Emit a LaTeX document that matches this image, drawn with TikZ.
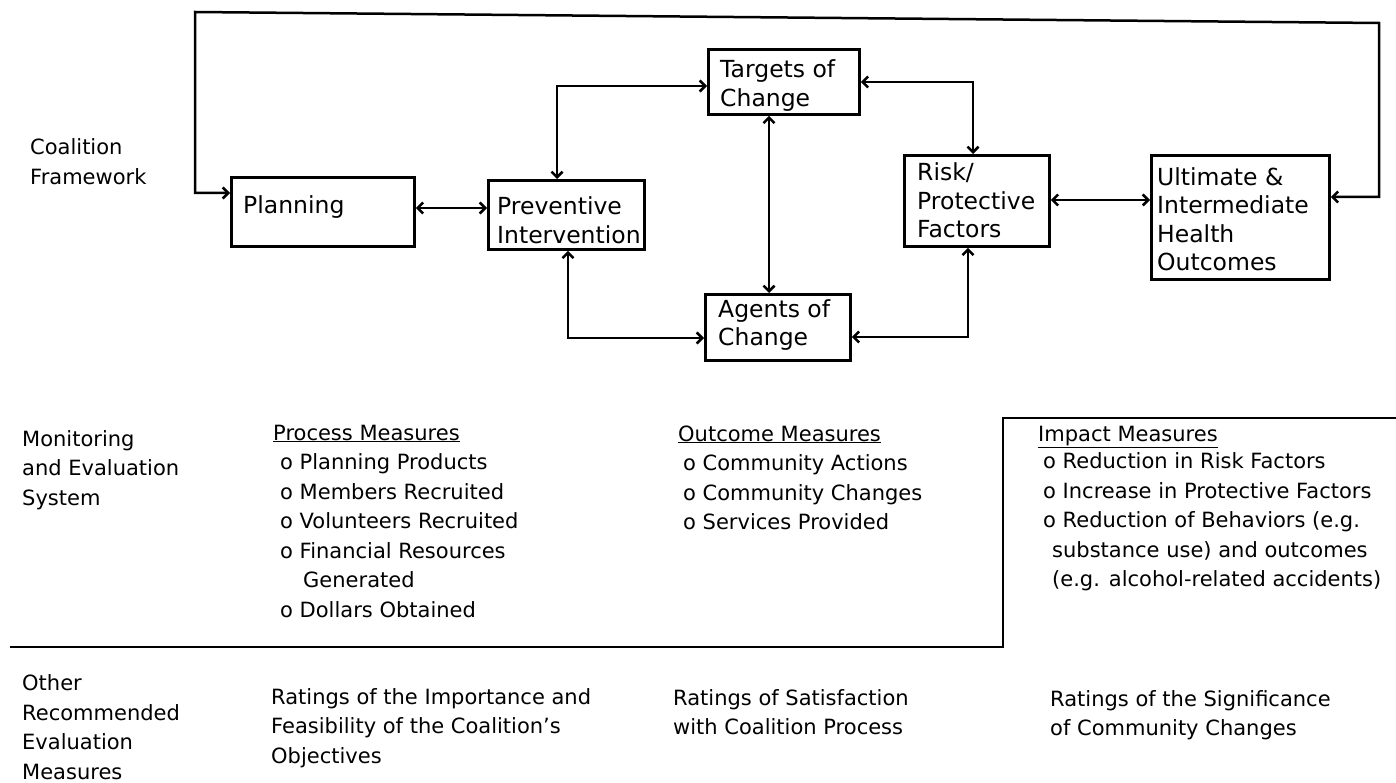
\documentclass[tikz,border=0pt]{standalone}
\usepackage{fontspec}
\setmainfont{DejaVu Sans}
\usetikzlibrary{arrows.meta}
\tikzset{
  lbl/.style={anchor=base west, align=left, inner sep=0pt, font=\fontsize{21}{29.5}\selectfont},
  btxt/.style={anchor=base west, align=left, inner sep=0pt, font=\fontsize{23.5}{28.5}\selectfont},
  box/.style={draw, line width=2.9pt, inner sep=0pt, anchor=north west},
  tip/.tip={Straight Barb[length=5.5pt,width=11pt]},
  conn/.style={line width=2.5pt, tip-tip},
  rule/.style={line width=2.6pt}
}
\begin{document}
\begin{tikzpicture}[x=1pt,y=-1pt]
\fill[white] (0,0) rectangle (1396,783);
\useasboundingbox (0,0) rectangle (1396,783);

% boxes
\node[box, minimum width=183pt, minimum height=69pt] (plan) at (230,176) {};
\node[box, minimum width=156pt, minimum height=69pt] (prev) at (487,179) {};
\node[box, minimum width=151pt, minimum height=65pt] (targ) at (707,48) {};
\node[box, minimum width=145pt, minimum height=91pt] (risk) at (903,154) {};
\node[box, minimum width=178pt, minimum height=124pt] (ult) at (1150,154) {};
\node[box, minimum width=145pt, minimum height=66pt] (agent) at (704,293) {};

% box texts (anchored at the baseline of the last line)
\node[btxt] (planT) at (243,213.5) {Planning};
\node[btxt] (prevT) at (497,243.5) {Preventive\\Intervention};
\node[btxt] (targT) at (720,106.5) {Targets of\\Change};
\node[btxt] (riskT) at (917,238) {Risk/\\Protective\\Factors};
\node[btxt] (ultT) at (1157,271) {Ultimate \&\\Intermediate\\Health\\Outcomes};
\node[btxt] (agentT) at (718,345.5) {Agents of\\Change};

% connector guide coordinates
\coordinate (l1) at (1379,197);
\coordinate (l2) at (1379,23);
\coordinate (l3) at (195,12);
\coordinate (l4) at (195,193);
\coordinate (pp) at (450,208);
\coordinate (pt) at (557,86);
\coordinate (tr) at (973,82);
\coordinate (ta) at (769,200);
\coordinate (ru) at (1100,200);
\coordinate (pa) at (568,338);
\coordinate (ar) at (968,337);

% connectors
\draw[conn] (ult.east |- l1) -- (l1) -- (l2) -- (l3) -- (l4) -- (l4 -| plan.west);
\draw[conn] (pp -| plan.east) -- (pp -| prev.west);
\draw[conn] (pt |- prev.north) -- (pt) -- (pt -| targ.west);
\draw[conn] (tr -| targ.east) -- (tr) -- (tr |- risk.north);
\draw[conn] (ta |- targ.south) -- (ta |- agent.north);
\draw[conn] (ru -| risk.east) -- (ru -| ult.west);
\draw[conn] (pa |- prev.south) -- (pa) -- (pa -| agent.west);
\draw[conn] (ar -| agent.east) -- (ar) -- (ar |- risk.south);

% section rules
\coordinate (s1) at (10,647);
\coordinate (s2) at (1003,647);
\coordinate (s3) at (1003,418);
\coordinate (s4) at (1396,418);
\draw[rule] (s1) -- (s2) -- (s3) -- (s4);

% left labels
\node[lbl] (coal) at (30,184.5) {Coalition\\Framework};
\node[lbl] (mon) at (22,505) {Monitoring\\and Evaluation\\System};
\node[lbl] (oth) at (22,779) {Other\\Recommended\\Evaluation\\Measures};

% measures
\node[lbl] (procH) at (273,440) {\underline{Process Measures}};
\node[lbl] (procL) at (280,617) {o Planning Products\\o Members Recruited\\o Volunteers Recruited\\o Financial Resources\\\hspace*{23pt}Generated\\o Dollars Obtained};
\node[lbl] (outH) at (678,441) {\underline{Outcome Measures}};
\node[lbl] (outL) at (683,529.5) {o Community Actions\\o Community Changes\\o Services Provided};
\node[lbl] (impH) at (1038,441) {\underline{Impact Measures}};
\node[lbl] (impL) at (1043,586.5) {o Reduction in Risk Factors\\o Increase in Protective Factors\\o Reduction of Behaviors (e.g.\\\hspace*{9pt}substance use) and outcomes\\\hspace*{9pt}(e.g. alcohol-related accidents)};

% other measures
\node[lbl] (rat1) at (271,763) {Ratings of the Importance and\\Feasibility of the Coalition's\\Objectives};
\node[lbl] (rat2) at (673,734.5) {Ratings of Satisfaction\\with Coalition Process};
\node[lbl] (rat3) at (1050,735.5) {Ratings of the Significance\\of Community Changes};
\end{tikzpicture}
\end{document}
